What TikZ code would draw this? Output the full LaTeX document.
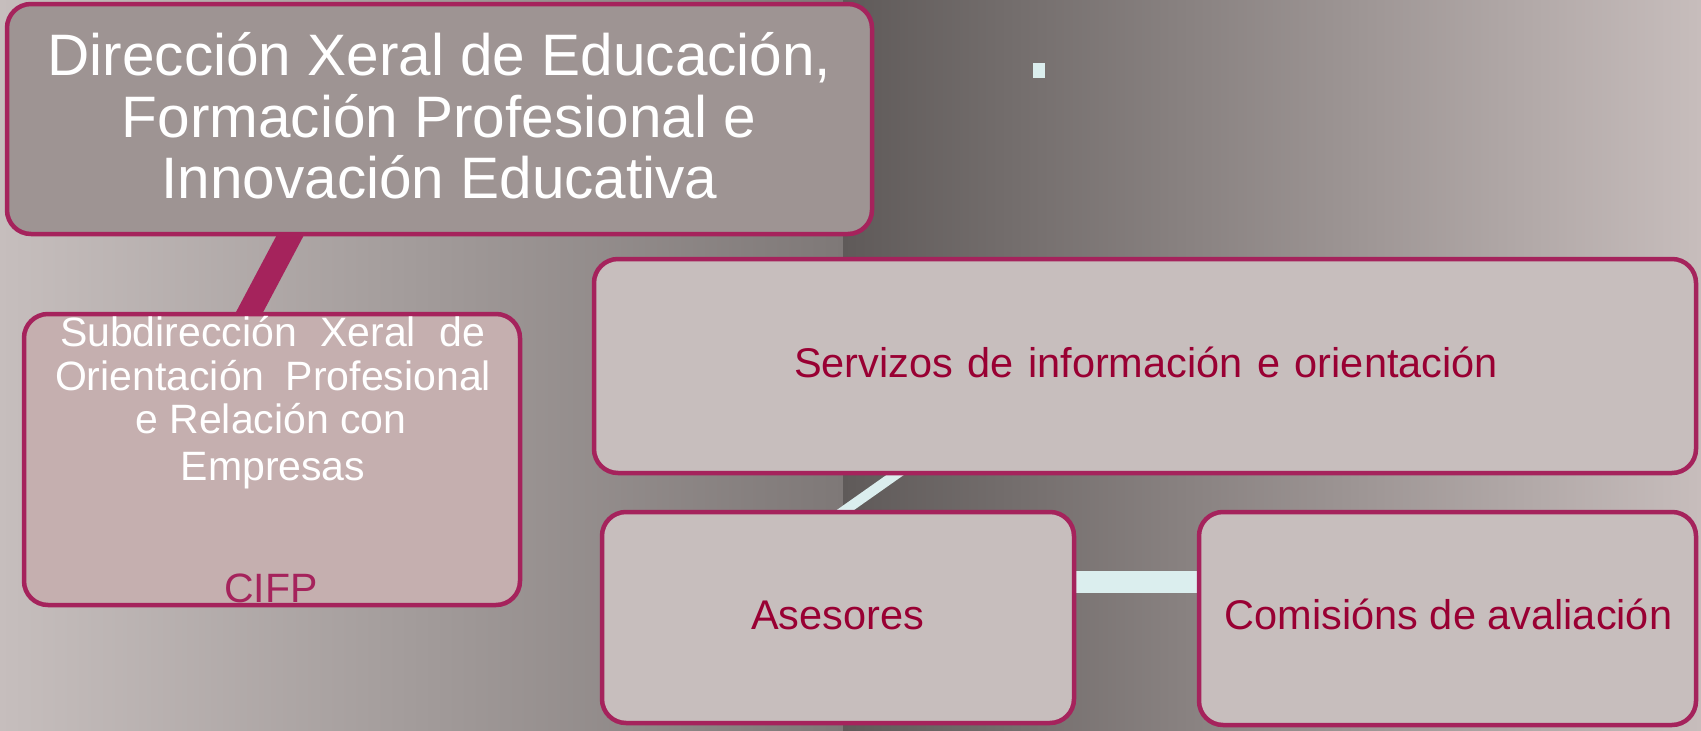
\documentclass[tikz,border=0pt]{standalone}
\usepackage{fontspec}
\setmainfont{Liberation Sans}
\definecolor{bordc}{RGB}{165,35,92}
\definecolor{topfill}{RGB}{158,148,147}
\definecolor{subfill}{RGB}{197,175,175}
\definecolor{boxfill}{RGB}{199,190,189}
\definecolor{redtext}{RGB}{153,0,51}
\definecolor{cyanc}{RGB}{219,238,238}
\definecolor{bgL1}{RGB}{198,190,189}
\definecolor{bgL2}{RGB}{126,120,119}
\definecolor{bgR1}{RGB}{95,90,89}
\definecolor{bgR2}{RGB}{199,189,188}
\pgfdeclarelayer{back}
\pgfdeclarelayer{conn}
\pgfsetlayers{back,conn,main}
\tikzset{
  box/.style={draw=bordc, line width=4.5pt, rounded corners=24pt, inner sep=0pt, rectangle},
  wtop/.style={text=white, font=\fontsize{58.5}{60}\selectfont, anchor=base, inner sep=0pt},
  wsub/.style={text=white, font=\fontsize{41}{44}\selectfont, anchor=base, inner sep=0pt},
  rtxt/.style={text=redtext, font=\fontsize{41.5}{44}\selectfont, anchor=base, inner sep=0pt},
  magconn/.style={draw=bordc, line width=24pt, shorten <=-15pt, shorten >=-15pt},
  cyconn/.style={draw=cyanc, line width=10pt, shorten <=-12pt, shorten >=-12pt},
  cyconnH/.style={draw=cyanc, line width=22pt, shorten <=-8pt, shorten >=-8pt}
}
\begin{document}
\begin{tikzpicture}[x=1pt,y=-1pt]
\useasboundingbox (0,0) rectangle (1701,731);
\begin{pgfonlayer}{back}
  \shade[left color=bgL1, right color=bgL2] (0,0) rectangle (843,731);
  \shade[left color=bgR1, right color=bgR2] (843,0) rectangle (1701,731);
  \fill[cyanc] (1033,63) rectangle (1045,78);
\end{pgfonlayer}

% boxes
\node[box, fill=topfill, minimum width=865pt, minimum height=230pt] (top) at (439.5,119) {};
\node[box, fill=subfill, minimum width=496pt, minimum height=291pt] (sub) at (272,459.5) {};
\node[box, fill=boxfill, minimum width=1102pt, minimum height=214pt] (serv) at (1145,366) {};
\node[box, fill=boxfill, minimum width=472pt, minimum height=211pt] (ases) at (838,617.5) {};
\node[box, fill=boxfill, minimum width=497pt, minimum height=213pt] (comi) at (1447.5,618.5) {};

% texts
\node[wtop] (t1) at (439.5,75) {Dirección Xeral de Educación,};
\node[wtop] (t2) at (439,137) {Formación Profesional e};
\node[wtop] (t3) at (439.5,198) {Innovación Educativa};

\node[wsub] (s1) at (272.5,346) {\makebox[425pt][s]{Subdirección Xeral de}};
\node[wsub] (s2) at (273,390) {\makebox[436pt][s]{Orientación Profesional}};
\node[wsub] (s3) at (271,433) {e Relación con};
\node[wsub] (s4) at (273,480) {Empresas};
\node[wsub, text=bordc] (cifp) at (271,602) {CIFP};

\node[rtxt] (servt) at (1146,377) {\makebox[704pt][s]{Servizos de información e orientación}};
\node[rtxt] (asest) at (837.5,629) {Asesores};
\node[rtxt] (comit) at (1448.5,629) {Comisións de avaliación};

% connectors
\begin{pgfonlayer}{conn}
  \draw[magconn] ([xshift=285pt]top.south west) -- ([xshift=228pt]sub.north west);
  \draw[cyconn] ([xshift=303pt]serv.south west) -- ([xshift=246pt]ases.north west);
  \draw[cyconnH] ([yshift=35.5pt]ases.east) -- ([yshift=35.5pt]ases.east -| comi.west);
\end{pgfonlayer}
\end{tikzpicture}
\end{document}
